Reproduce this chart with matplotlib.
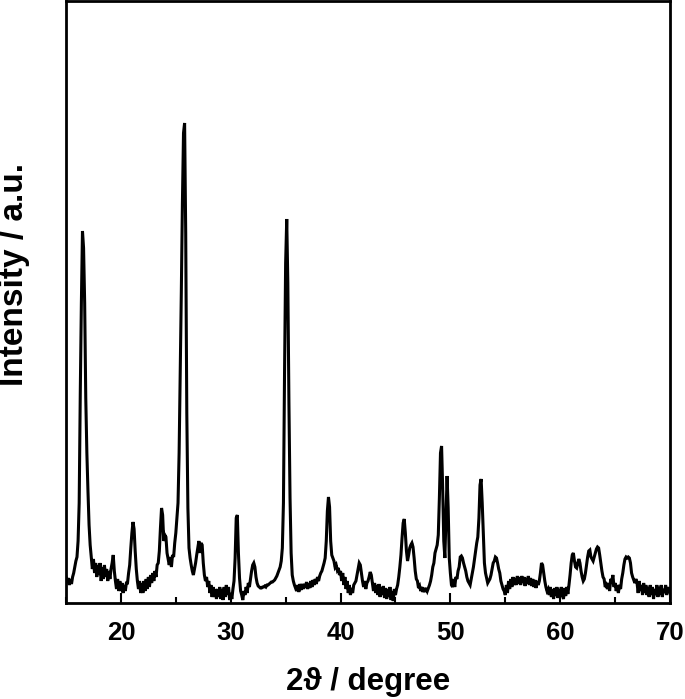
import numpy as np
import matplotlib
matplotlib.use("Agg")
import matplotlib.pyplot as plt
from matplotlib.ticker import MultipleLocator

# XRD scan: start angle, step (degrees 2-theta)
two_theta_start = 15.0
two_theta_step = 0.1

# intensity (a.u.), one row per degree (x.0 ... x.9)
intensity_rows = [
    [26, 20, 25, 18, 24, 19, 26, 30, 36, 42],          # 15
    [46, 62, 100, 210, 300, 372, 355, 300, 205, 150],  # 16
    [112, 78, 58, 46, 34, 44, 30, 40, 26, 38],         # 17
    [28, 40, 22, 36, 24, 38, 26, 34, 22, 32],          # 18
    [24, 34, 40, 48, 32, 22, 14, 24, 12, 22],          # 19
    [12, 20, 10, 18, 12, 20, 20, 30, 38, 55],          # 20
    [70, 81, 74, 52, 34, 22, 14, 22, 10, 20],          # 21
    [10, 22, 12, 24, 14, 26, 16, 28, 20, 30],          # 22
    [22, 32, 26, 38, 40, 52, 75, 95, 88, 62],          # 23
    [68, 66, 50, 44, 38, 46, 36, 48, 46, 60],          # 24
    [70, 85, 100, 150, 230, 310, 400, 470, 480, 370],  # 25
    [190, 95, 55, 45, 38, 32, 28, 34, 40, 48],         # 26
    [55, 62, 50, 60, 58, 40, 28, 22, 26, 16],          # 27
    [22, 10, 18, 6, 16, 6, 14, 4, 14, 6],              # 28
    [16, 4, 14, 3, 16, 6, 18, 8, 16, 3],               # 29
    [10, 4, 14, 22, 45, 85, 88, 50, 25, 12],           # 30
    [8, 3, 12, 8, 16, 10, 20, 16, 24, 32],             # 31
    [38, 40, 36, 26, 20, 17, 16, 15, 15, 16],          # 32
    [16, 17, 16, 18, 18, 19, 20, 21, 21, 22],          # 33
    [23, 25, 27, 30, 33, 36, 42, 55, 100, 230],        # 34
    [340, 384, 320, 200, 105, 50, 28, 22, 18, 15],     # 35
    [12, 18, 11, 19, 13, 19, 14, 19, 15, 21],          # 36
    [14, 20, 15, 22, 16, 23, 18, 24, 19, 26],          # 37
    [22, 27, 30, 32, 36, 40, 45, 62, 92, 106],         # 38
    [96, 62, 48, 45, 42, 36, 38, 33, 35, 28],          # 39
    [32, 22, 30, 18, 26, 14, 22, 10, 18, 8],           # 40
    [15, 10, 18, 20, 22, 28, 34, 40, 38, 30],          # 41
    [22, 16, 22, 14, 20, 22, 26, 31, 28, 20],          # 42
    [12, 20, 10, 18, 8, 19, 6, 16, 8, 17],             # 43
    [5, 15, 4, 14, 6, 16, 3, 12, 2, 14],               # 44
    [8, 14, 18, 26, 36, 48, 65, 80, 84, 70],           # 45
    [52, 42, 48, 55, 58, 60, 56, 45, 32, 24],          # 46
    [22, 15, 17, 12, 16, 11, 15, 11, 15, 12],          # 47
    [15, 18, 22, 28, 36, 40, 50, 54, 58, 68],          # 48
    [105, 150, 157, 115, 62, 45, 85, 127, 95, 45],     # 49
    [30, 18, 16, 24, 16, 26, 24, 32, 36, 46],          # 50
    [47, 45, 40, 36, 32, 26, 22, 20, 18, 24],          # 51
    [30, 36, 44, 52, 60, 66, 85, 118, 124, 100],       # 52
    [70, 40, 30, 25, 20, 22, 24, 28, 34, 40],          # 53
    [42, 46, 45, 40, 34, 30, 22, 18, 14, 12],          # 54
    [8, 18, 10, 22, 14, 24, 16, 26, 18, 25],           # 55
    [18, 27, 19, 26, 18, 27, 20, 26, 17, 25],          # 56
    [19, 27, 18, 25, 17, 24, 16, 23, 15, 22],          # 57
    [18, 22, 30, 40, 38, 30, 22, 16, 12, 14],          # 58
    [8, 16, 6, 14, 4, 15, 7, 16, 5, 14],               # 59
    [6, 16, 8, 4, 15, 7, 16, 9, 18, 28],               # 60
    [40, 48, 50, 42, 36, 35, 40, 44, 40, 32],          # 61
    [26, 22, 24, 30, 38, 46, 52, 53, 46, 44],          # 62
    [42, 46, 50, 54, 56, 55, 48, 40, 32, 26],          # 63
    [24, 16, 18, 14, 20, 12, 24, 22, 28, 16],          # 64
    [20, 12, 18, 10, 18, 14, 24, 30, 38, 44],          # 65
    [46, 45, 46, 45, 40, 30, 26, 23, 20, 24],          # 66
    [20, 10, 22, 12, 18, 8, 20, 10, 18, 8],            # 67
    [16, 6, 18, 8, 16, 4, 14, 8, 18, 6],               # 68
    [16, 8, 18, 6, 14, 10, 18, 8, 16, 10],             # 69
    [14],                                              # 70
]

x_ticks = [20, 30, 40, 50, 60, 70]
x_label = "2\u03d1 / degree"
y_label = "Intensity / a.u."

intensity = np.array([v for row in intensity_rows for v in row], dtype=float)
two_theta = two_theta_start + two_theta_step * np.arange(len(intensity))

plt.rcParams['font.family'] = ['Liberation Sans', 'DejaVu Sans']
plt.rcParams['font.weight'] = 'bold'

fig = plt.figure(figsize=(6.85, 6.99), dpi=100)
ax = fig.add_axes([66 / 685, 1 - 603 / 699, (670 - 66) / 685, (603 - 1) / 699])

ax.plot(two_theta, intensity, color='black', lw=2.2, solid_joinstyle='miter')

ax.set_xlim(15, 70)
ax.set_ylim(0, 602)
ax.set_xticks(x_ticks)
ax.xaxis.set_minor_locator(MultipleLocator(5))
ax.set_yticks([])
ax.tick_params(axis='x', which='major', direction='in', length=7, width=1.5,
               labelsize=18.5, pad=13, top=False)
ax.tick_params(axis='x', which='minor', direction='in', length=4.5, width=1.5, top=False)
for lab in ax.get_xticklabels():
    lab.set_fontweight('bold')
for sp in ax.spines.values():
    sp.set_linewidth(2)

ax.set_xlabel(x_label, fontsize=22.5, fontweight='bold', labelpad=16)
fig.text(15 / 685, 1 - 274 / 699, y_label, rotation=90, ha='center', va='center',
         fontsize=24, fontweight='bold')

fig.savefig("out.png", dpi=100)
